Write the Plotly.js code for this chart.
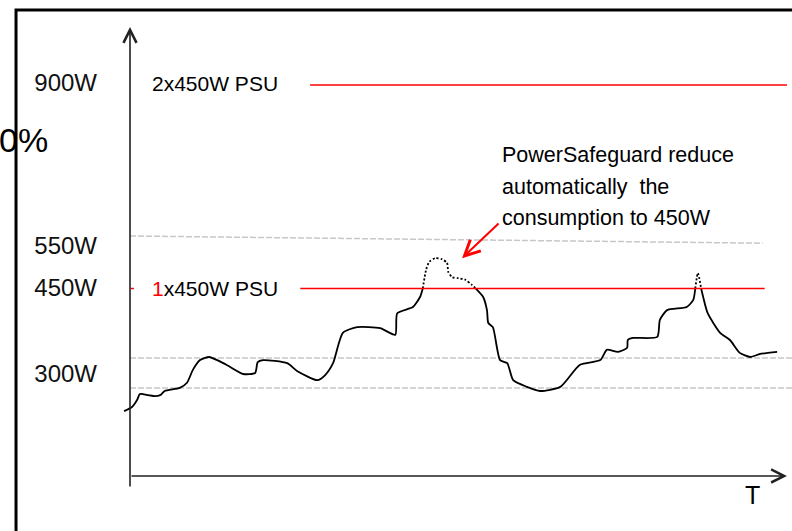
<!DOCTYPE html>
<html>
<head>
<meta charset="utf-8">
<script src="https://cdn.plot.ly/plotly-3.0.1.min.js"></script>
<style>
  html, body { margin: 0; padding: 0; background: #fff; }
  #chart { width: 792px; height: 531px; }
</style>
</head>
<body>
<div id="chart"></div>
<script>
// ---- data (schematic power level over time) ----
const timeT = [-0.9, 0.3, 1.1, 1.5, 2.8, 3.8, 4.6, 5.3, 7.6, 8.7, 9.6, 10.7, 12.1, 14.7, 17.3, 19.1, 19.5, 20.3, 24.0, 25.5,
  28.6, 29.8, 31.0, 32.5, 34.7, 38.2, 40.5, 40.8, 43.2, 44.3, 44.7, 45.2, 45.7, 46.6, 47.6, 48.4, 48.6, 49.2, 50.1, 51.2,
  52.2, 52.8, 53.9, 54.5, 54.7, 55.4, 56.5, 57.6, 58.5, 60.6, 62.6, 65.7, 68.7, 71.8, 72.8, 74.5, 75.9, 76.0, 76.8, 80.5,
  80.9, 82.0, 85.0, 86.0, 86.3, 86.7, 87.2, 87.5, 88.2, 90.1, 91.6, 93.1, 94.7, 96.2, 98.8];
const powerW = [212, 220, 234, 245, 243, 241, 243, 251, 257, 267, 292, 311, 317, 302, 284, 286, 307, 311, 305, 290,
  272, 282, 305, 364, 375, 373, 360, 402, 414, 434, 450, 486, 502, 509, 507, 500, 482, 472, 470, 467,
  457, 450, 434, 408, 383, 375, 311, 305, 272, 259, 251, 259, 302, 311, 331, 327, 335, 350, 354, 356,
  389, 408, 414, 428, 450, 480, 450, 434, 402, 364, 350, 325, 317, 323, 327];
const safeguardLimit = 450;

const tickLabels = ['900W', '550W', '450W', '300W'];
const tickLevels = [849, 534, 451, 284];

const psuLabels = ['2x450W PSU', '<span style="color:#ff0000">1</span>x450W PSU'];
const psuLevels = [845, 450];

const guideStart = [552, 315, 257];
const guideEnd = [538, 315, 257];

const noteLines = ['PowerSafeguard reduce', 'automatically&nbsp; the', 'consumption to 450W'];

// ---- split into normal (solid) and clipped-by-safeguard (dotted) parts ----
const solidY = powerW.map(v => (v > safeguardLimit ? null : v));
const dottedY = powerW.map(v => (v >= safeguardLimit ? v : null));

const FONT = 'Liberation Sans, Arial, sans-serif';

const traces = [
  {
    x: timeT, y: solidY, type: 'scatter', mode: 'lines', connectgaps: false,
    line: { color: '#000000', width: 1.8, shape: 'spline', smoothing: 0.6 },
    hoverinfo: 'skip', showlegend: false
  },
  {
    x: timeT, y: dottedY, type: 'scatter', mode: 'lines', connectgaps: false,
    line: { color: '#000000', width: 1.8, dash: '2px,2px', shape: 'spline', smoothing: 0.6 },
    hoverinfo: 'skip', showlegend: false
  }
];

const shapes = [];
// dashed grey guide levels
const guideX1 = [96.6, 103, 103];
guideStart.forEach((v, i) => {
  shapes.push({ type: 'line', xref: 'x', yref: 'y', x0: 0, x1: guideX1[i], y0: v, y1: guideEnd[i],
    line: { color: '#c8c8c8', width: 1.5, dash: '6px,2px' }, layer: 'below' });
});
// red PSU capacity lines
shapes.push({ type: 'line', xref: 'x', yref: 'y', x0: 27.5, x1: 100.3, y0: psuLevels[0], y1: psuLevels[0],
  line: { color: '#ff0000', width: 1.5 } });
shapes.push({ type: 'line', xref: 'x', yref: 'y', x0: 26.0, x1: 96.9, y0: psuLevels[1], y1: psuLevels[1],
  line: { color: '#ff0000', width: 1.5 } });
shapes.push({ type: 'line', xref: 'x', yref: 'y', x0: 0.1, x1: 0.6, y0: psuLevels[1], y1: psuLevels[1],
  line: { color: '#ff0000', width: 1.5 } });
// outer frame
shapes.push({ type: 'rect', xref: 'paper', yref: 'paper', x0: -0.1496, x1: 1.02, y0: -0.1, y1: 1.0208,
  line: { color: '#000000', width: 3 }, fillcolor: 'rgba(0,0,0,0)', layer: 'above' });

const annotations = [
  // y axis with arrow
  { xref: 'x', yref: 'y', axref: 'x', ayref: 'y', x: 0, y: 957.8, ax: 0, ay: 62.6, text: '',
    showarrow: true, arrowhead: 5, arrowsize: 1.6, arrowwidth: 1.6, arrowcolor: '#222222', standoff: 0 },
  // x axis with arrow
  { xref: 'x', yref: 'y', axref: 'x', ayref: 'y', x: 100.3, y: 86, ax: 0, ay: 86, text: '',
    showarrow: true, arrowhead: 5, arrowsize: 1.6, arrowwidth: 1.6, arrowcolor: '#222222', standoff: 0 },
  { xref: 'x', yref: 'y', x: 95.0, y: 50, text: 'T', showarrow: false, xanchor: 'center', yanchor: 'middle',
    font: { family: FONT, size: 25, color: '#000000' } },
  // PSU labels
  { xref: 'x', yref: 'y', x: 3.05, y: 849, text: psuLabels[0], showarrow: false, xanchor: 'left', yanchor: 'middle',
    font: { family: FONT, size: 21, color: '#000000' } },
  { xref: 'x', yref: 'y', x: 3.05, y: 451, text: psuLabels[1], showarrow: false, xanchor: 'left', yanchor: 'middle',
    font: { family: FONT, size: 21, color: '#000000' } },
  // note
  { xref: 'x', yref: 'y', x: 56.5, y: 709, text: noteLines[0], showarrow: false, xanchor: 'left', yanchor: 'middle',
    font: { family: FONT, size: 21.5, color: '#000000' } },
  { xref: 'x', yref: 'y', x: 56.5, y: 647, text: noteLines[1], showarrow: false, xanchor: 'left', yanchor: 'middle',
    font: { family: FONT, size: 21.5, color: '#000000' } },
  { xref: 'x', yref: 'y', x: 56.5, y: 587, text: noteLines[2], showarrow: false, xanchor: 'left', yanchor: 'middle',
    font: { family: FONT, size: 21.5, color: '#000000' } },
  // red pointer
  { xref: 'x', yref: 'y', axref: 'x', ayref: 'y', x: 50.7, y: 509, ax: 56.5, ay: 579, text: '',
    showarrow: true, arrowhead: 5, arrowsize: 1.5, arrowwidth: 2, arrowcolor: '#ff0000', standoff: 0 },
  // cut-off label at the left edge
  { xref: 'paper', yref: 'paper', x: (50 - 117) / 675, y: (501 - 140) / 481, text: '0%', showarrow: false,
    xanchor: 'right', yanchor: 'middle', font: { family: FONT, size: 34, color: '#000000' } }
];

const layout = {
  width: 792, height: 531,
  margin: { l: 117, r: 0, t: 20, b: 30, pad: 0 },
  paper_bgcolor: '#ffffff', plot_bgcolor: '#ffffff',
  showlegend: false,
  xaxis: { range: [-1.985, 101.07], showgrid: false, zeroline: false, showline: false,
    showticklabels: false, ticks: '', fixedrange: true },
  yaxis: { range: [37.4, 971.4], showgrid: false, zeroline: false, showline: false,
    tickmode: 'array', tickvals: tickLevels, ticktext: tickLabels, ticks: '',
    ticklabelstandoff: 19, tickfont: { family: FONT, size: 24, color: '#111111' }, fixedrange: true },
  shapes: shapes,
  annotations: annotations
};

Plotly.newPlot('chart', traces, layout, { displayModeBar: false, staticPlot: true });
</script>
</body>
</html>
